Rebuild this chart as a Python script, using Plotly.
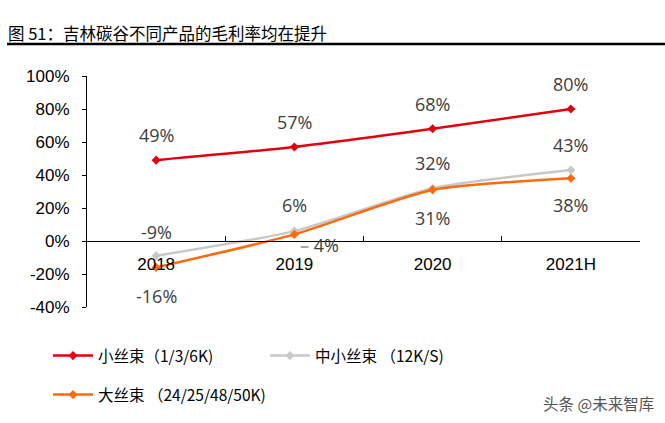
import plotly.graph_objects as go

categories = ["2018", "2019", "2020", "2021H"]
small_tow = [49, 57, 68, 80]
mid_small_tow = [-9, 6, 32, 43]
large_tow = [-16, 4, 31, 38]
series_names = ["小丝束（1/3/6K)", "中小丝束 （12K/S)", "大丝束 （24/25/48/50K)"]
y_ticks = [-40, -20, 0, 20, 40, 60, 80, 100]
y_tick_text = [f"{v}%" for v in y_ticks]

colors = ["#E3000F", "#C8C8C8", "#FF6A0E"]
series = [small_tow, mid_small_tow, large_tow]
legends = ["legend", "legend", "legend2"]

fig = go.Figure()
for name, vals, col, lg in zip(series_names, series, colors, legends):
    fig.add_trace(go.Scatter(
        x=categories, y=vals, name=name, mode="lines+markers", legend=lg,
        line=dict(color=col, width=2.5, shape="spline", smoothing=0.6),
        marker=dict(symbol="diamond", size=7, color=col),
    ))

label_font = dict(family="Open Sans, Noto Sans, sans-serif", size=18, color="#404040")
# label offsets (pixels): above for first two series, below for large tow
shifts = [[25, 25, 25, 25], [24, 26, 25, 25], [-29, None, -28, -27]]
annotations = []
for vals, sh in zip(series, shifts):
    for i, (v, s) in enumerate(zip(vals, sh)):
        if s is None:
            continue
        annotations.append(dict(x=i, y=v, xref="x", yref="y", text=f"{v}%",
                                showarrow=False, yshift=s, font=label_font))
# moved label with leader dash for 2019 large tow
annotations.append(dict(x=1, y=large_tow[1], xref="x", yref="y",
                        text=f"<span style='color:#A6A6A6'><b>–</b></span> {large_tow[1]}%",
                        showarrow=False, xanchor="left", xshift=4, yshift=-11,
                        font=label_font))
# title
annotations.append(dict(x=6, y=33, xref="paper", yref="paper", text="图 51：吉林碳谷不同产品的毛利率均在提升",
                        showarrow=False, xanchor="left", yanchor="middle",
                        font=dict(family="Noto Sans CJK SC, Liberation Sans", size=16.5, color="#000000")))
# watermark
annotations.append(dict(x=656, y=403, xref="paper", yref="paper", text="头条 @未来智库",
                        showarrow=False, xanchor="right", yanchor="middle",
                        font=dict(family="Noto Sans CJK SC", size=15.5, color="#555555")))

# convert paper-pixel annotations (title, watermark) to paper fractions
W, H = 665, 423
ml, mr, mt, mb = 87, 25, 76, 116
pw, ph = W - ml - mr, H - mt - mb
for a in annotations:
    if a.get("xref") == "paper":
        a["x"] = (a["x"] - ml) / pw
        a["y"] = (H - mb - a["y"]) / ph

legend_font = dict(family="Noto Sans CJK SC", size=15.5, color="#000000")
fig.update_layout(
    width=W, height=H,
    margin=dict(l=ml, r=mr, t=mt, b=mb, autoexpand=False),
    paper_bgcolor="white", plot_bgcolor="white",
    showlegend=True,
    legend=dict(orientation="h", x=(48 - ml) / pw, y=(H - mb - 339) / ph,
                xanchor="left", yanchor="top", font=legend_font,
                entrywidth=162, entrywidthmode="pixels", itemwidth=40,
                bgcolor="rgba(0,0,0,0)"),
    legend2=dict(orientation="h", x=(48 - ml) / pw, y=(H - mb - 378) / ph,
                 xanchor="left", yanchor="top", font=legend_font,
                 itemwidth=40, bgcolor="rgba(0,0,0,0)"),
    annotations=annotations,
    shapes=[dict(type="line", xref="paper", yref="paper",
                 x0=(7 - ml) / pw, x1=(665 - ml) / pw,
                 y0=(H - mb - 44) / ph, y1=(H - mb - 44) / ph,
                 line=dict(color="black", width=2.5))],
    xaxis=dict(type="category", range=[-0.5, 3.5], showgrid=False,
               showline=True, linecolor="black", linewidth=1,
               anchor="free", position=40 / 140,
               ticks="inside", tickson="boundaries", ticklen=5, tickcolor="black",
               ticklabelstandoff=8,
               tickfont=dict(family="Liberation Sans, Arial", size=17, color="black")),
    yaxis=dict(range=[-40, 100], tickvals=y_ticks, ticktext=y_tick_text,
               showgrid=False, zeroline=False, showline=True, linecolor="black",
               linewidth=1, ticks="outside", ticklen=4, tickcolor="black",
               ticklabelstandoff=9,
               tickfont=dict(family="Liberation Sans, Arial", size=17, color="black")),
)

fig.write_html("out.html", config={"displayModeBar": False},
               post_script="document.body.style.margin='0';")
